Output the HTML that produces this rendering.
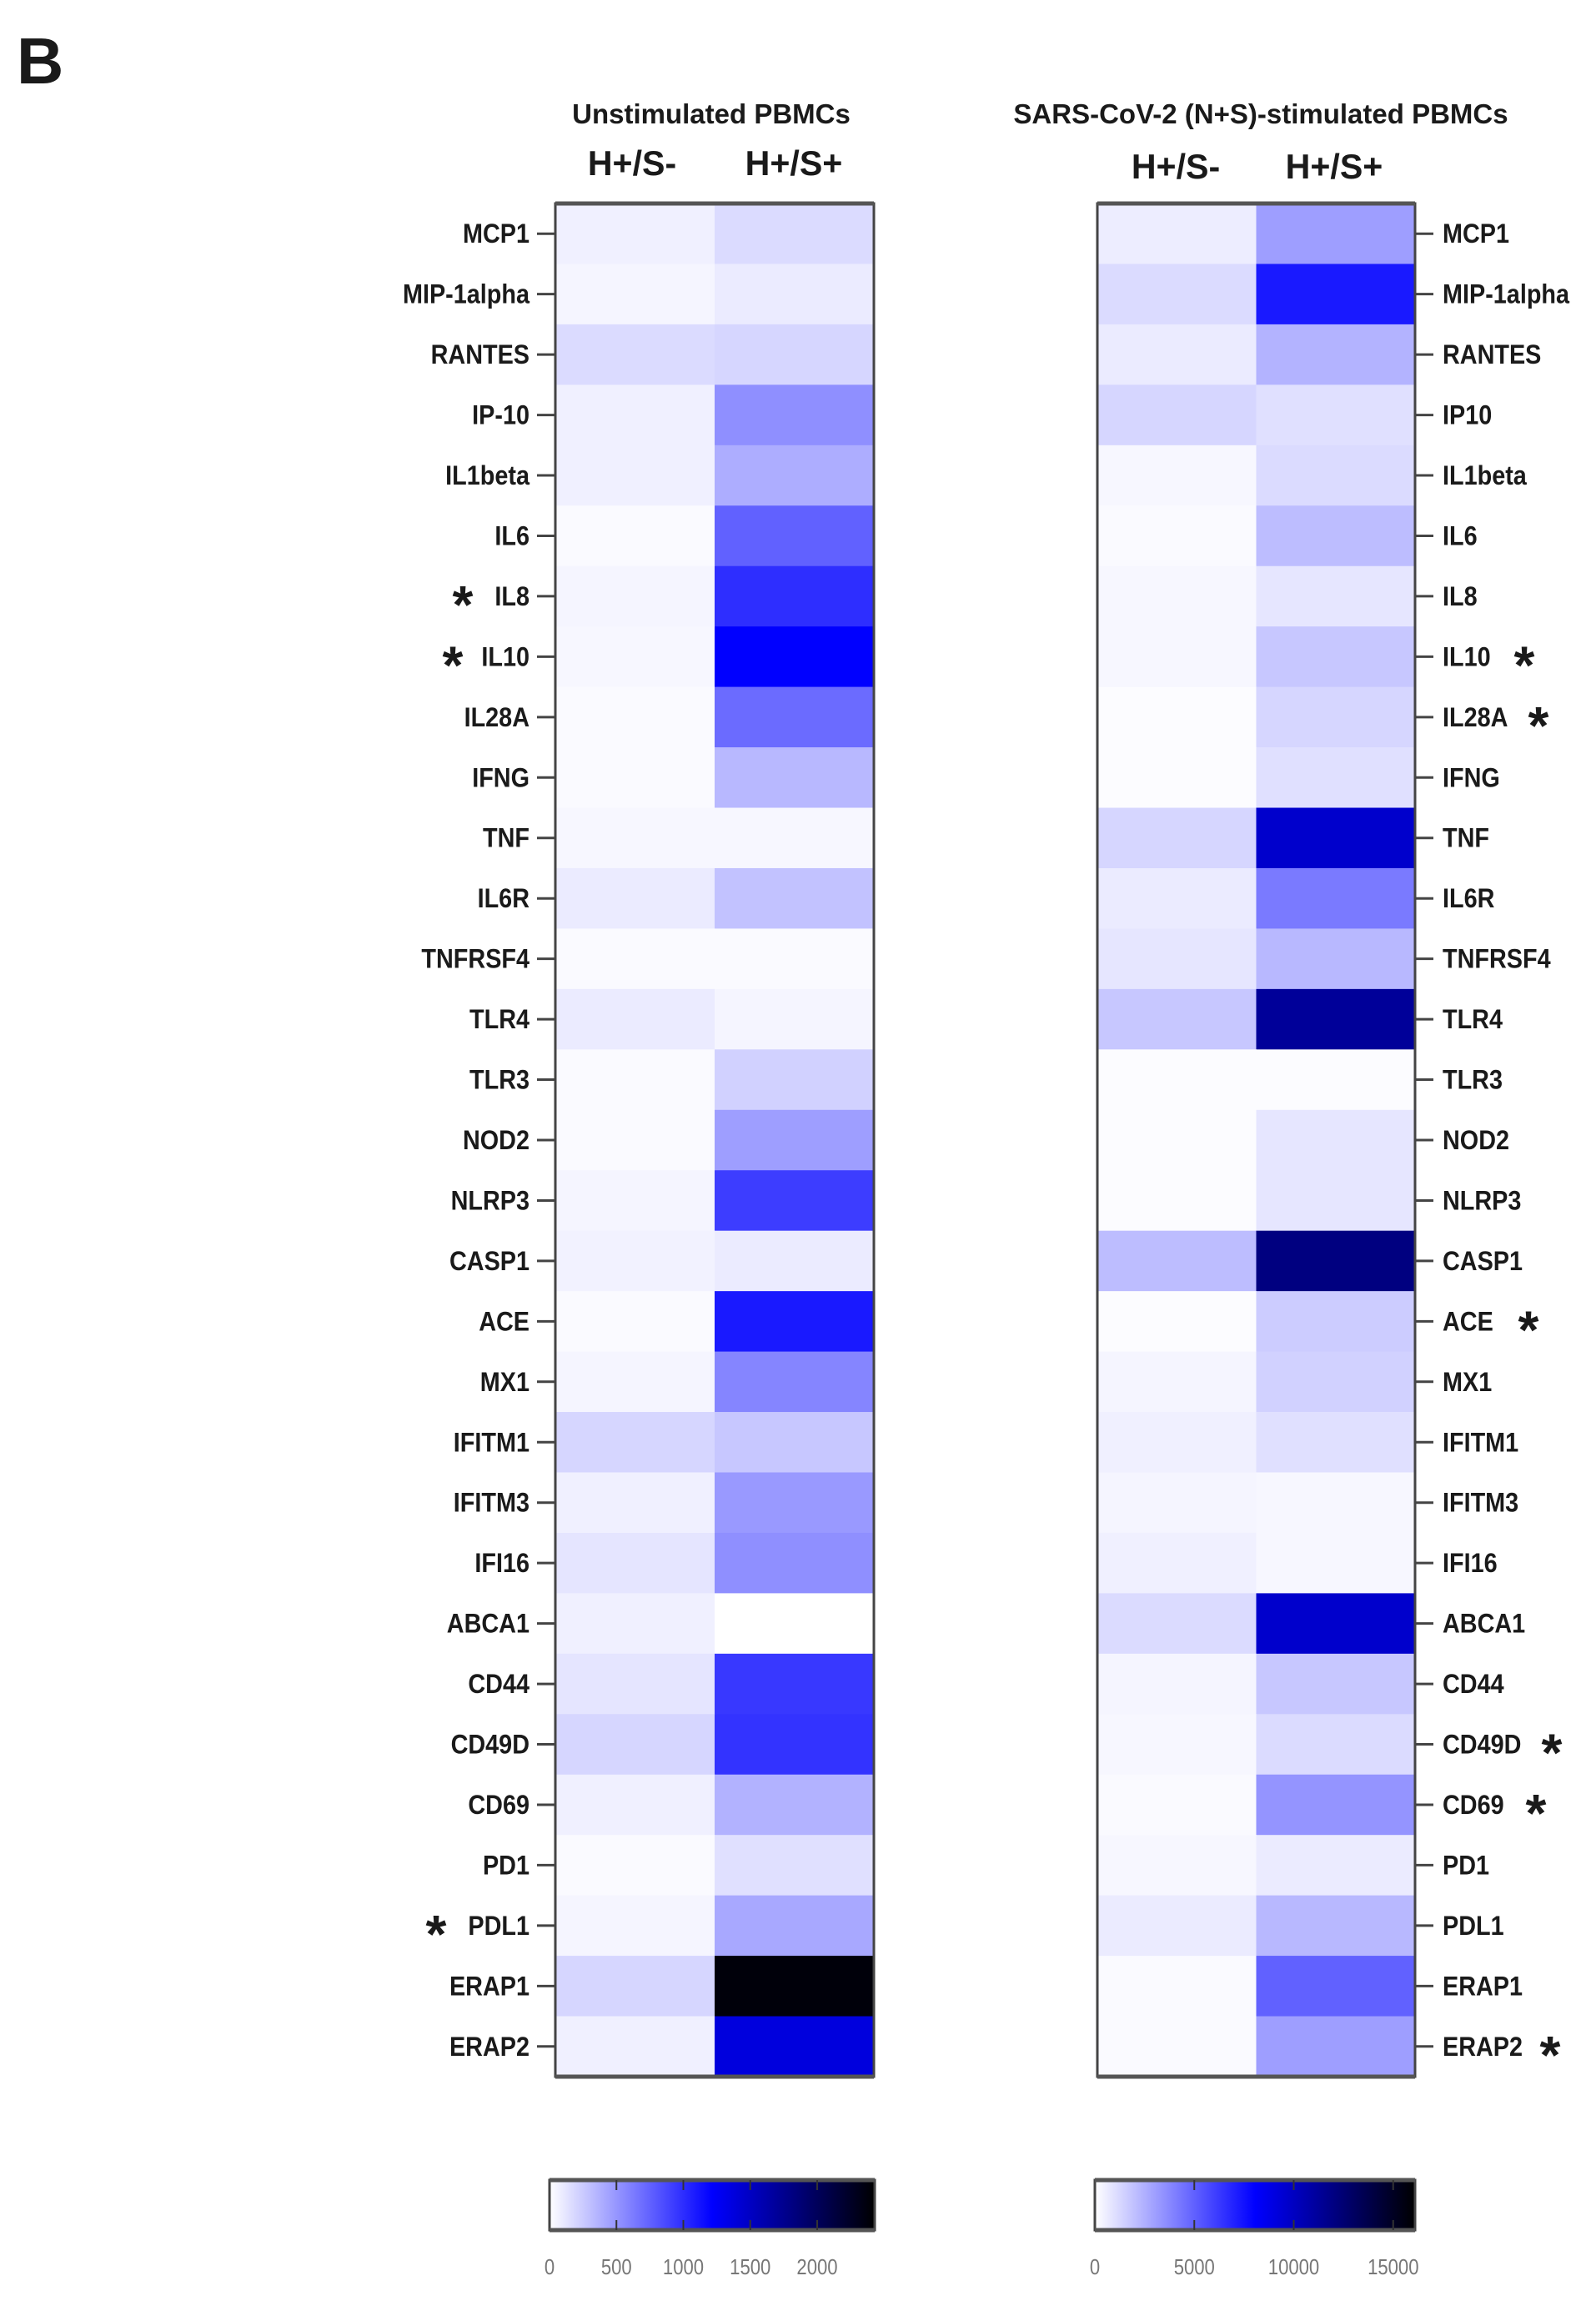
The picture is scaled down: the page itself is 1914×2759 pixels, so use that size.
<!DOCTYPE html>
<html><head><meta charset="utf-8">
<style>
html,body{margin:0;padding:0;background:#fff;}
svg{display:block;}
text{font-family:"Liberation Sans",sans-serif;font-weight:bold;fill:#1a1a1a;}
</style></head>
<body>
<svg id="chart" width="1914" height="2759" viewBox="0 0 1914 2759">
<text x="20" y="100" font-size="78">B</text>
</svg>
<script>
const genes=["MCP1","MIP-1alpha","RANTES","IP-10","IL1beta","IL6","IL8","IL10","IL28A","IFNG","TNF","IL6R","TNFRSF4","TLR4","TLR3","NOD2","NLRP3","CASP1","ACE","MX1","IFITM1","IFITM3","IFI16","ABCA1","CD44","CD49D","CD69","PD1","PDL1","ERAP1","ERAP2"];
const genesRight=["MCP1","MIP-1alpha","RANTES","IP10","IL1beta","IL6","IL8","IL10","IL28A","IFNG","TNF","IL6R","TNFRSF4","TLR4","TLR3","NOD2","NLRP3","CASP1","ACE","MX1","IFITM1","IFITM3","IFI16","ABCA1","CD44","CD49D","CD69","PD1","PDL1","ERAP1","ERAP2"];
const unstimNeg=[73,49,170,73,73,24,49,36,24,24,36,97,24,97,24,24,49,61,24,49,194,73,122,73,122,194,73,24,49,194,73];
const unstimPos=[170,97,194,535,389,753,996,1215,705,340,36,292,24,49,219,462,923,97,1094,583,267,486,535,0,948,972,365,146,413,2380,1378];
const stimNeg=[564,1127,644,1288,242,161,242,242,80,80,1288,644,805,1771,80,80,80,2093,80,322,483,322,483,1127,322,242,161,242,644,161,161];
const stimPos=[3059,7245,2415,966,1127,2093,805,1771,1288,966,9660,4186,2254,11270,80,805,805,12075,1610,1449,966,242,242,9660,1771,1127,3381,644,2254,4991,3059];
const unstimMax=2430, stimMax=16100;
const unstimTicks=[0,500,1000,1500,2000];
const stimTicks=[0,5000,10000,15000];
const leftStars=["IL8","IL10","PDL1"];
const rightStars=["IL10","IL28A","ACE","CD49D","CD69","ERAP2"];

const NS="http://www.w3.org/2000/svg";
const svg=document.getElementById("chart");
function mk(tag,attrs,parent){const e=document.createElementNS(NS,tag);for(const k in attrs)e.setAttribute(k,attrs[k]);(parent||svg).appendChild(e);return e;}
function stxt(x,y,size,anchor,sx,parent){return mk("text",{x:0,y:0,"font-size":size,"text-anchor":anchor,transform:`translate(${x},${y}) scale(${sx},1)`},parent);}
function color(v,max){let t=Math.max(0,Math.min(1,v/max));let r,g,b;
 if(t<0.5){const f=1-2*t;r=g=255*f;b=255;}else{const f=1-(t-0.5)*2;r=g=0;b=255*f;}
 return `rgb(${Math.round(r)},${Math.round(g)},${Math.round(b)})`;}
const top0=244, bot0=2490, rowH=(bot0-top0)/genes.length;
function yRow(i){return top0+i*rowH;}

function panel(x0,x1,colA,colB,max,labels,side,stars,starX,name){
 const mid=(x0+x1)/2;
 const g=mk("g",{});
 
 
 labels.forEach((lab,i)=>{
  [[colA,x0,mid],[colB,mid,x1]].forEach(([arr,a,b],c)=>{
   const r=mk("rect",{x:a,y:yRow(i),width:b-a+0.5,height:rowH+0.5,fill:color(arr[i],max)},g);
   
   
  });
  const cy=yRow(i)+rowH/2;
  let t;
  if(side==="left"){
   mk("line",{x1:x0-22,x2:x0,y1:cy,y2:cy,stroke:"#444","stroke-width":3},g);
   t=stxt(x0-31,cy+11,32,"end",0.9,g);
  }else{
   mk("line",{x1:x1,x2:x1+22,y1:cy,y2:cy,stroke:"#444","stroke-width":3},g);
   t=stxt(x1+33,cy+11,32,"start",0.9,g);
  }
  t.textContent=lab;
  
  
  const si=stars.indexOf(lab);
  if(si>=0){const s=mk("text",{x:starX[si],y:cy+32,"font-size":64,"text-anchor":"middle"},g);s.textContent="*";
   
   }
 });
 mk("rect",{x:x0,y:top0,width:x1-x0,height:bot0-top0,fill:"none",stroke:"#444","stroke-width":3},g);
 mk("line",{x1:x0,x2:x1,y1:top0,y2:top0,stroke:"#555","stroke-width":5},g);
 mk("line",{x1:x0,x2:x1,y1:bot0,y2:bot0,stroke:"#555","stroke-width":5},g);
}
panel(666,1048,unstimNeg,unstimPos,unstimMax,genes,"left",leftStars,[555,543,523],"heatmap-unstimulated");
panel(1316,1697,stimNeg,stimPos,stimMax,genesRight,"right",rightStars,[1828,1845,1833,1861,1842,1859],"heatmap-stimulated");

function title(x,y,s,sx,txt,name){const t=stxt(x,y,s,"middle",sx);t.textContent=txt;
 
 }
title(853,148,33,1.0,"Unstimulated PBMCs","title-unstimulated");
title(1512,148,33,1.0,"SARS-CoV-2 (N+S)-stimulated PBMCs","title-stimulated");
title(758,210,42,0.98,"H+/S-","column-label-h-s-neg-left");
title(952,210,42,0.98,"H+/S+","column-label-h-s-pos-left");
title(1410,214,42,0.98,"H+/S-","column-label-h-s-neg-right");
title(1600,214,42,0.98,"H+/S+","column-label-h-s-pos-right");

const defs=mk("defs",{});
const lg=mk("linearGradient",{id:"cb",x1:0,x2:1,y1:0,y2:0},defs);
mk("stop",{offset:"0","stop-color":"#fff"},lg);mk("stop",{offset:"0.5","stop-color":"#00f"},lg);mk("stop",{offset:"1","stop-color":"#000"},lg);
function colorbar(x0,x1,max,ticks,name){
 const y0=2614,y1=2674;
 const r=mk("rect",{x:x0,y:y0,width:x1-x0,height:y1-y0,fill:"url(#cb)",stroke:"#444","stroke-width":3});
 
 
 mk("line",{x1:x0,x2:x1,y1:y0,y2:y0,stroke:"#555","stroke-width":5});
 mk("line",{x1:x0,x2:x1,y1:y1,y2:y1,stroke:"#555","stroke-width":5});
 ticks.forEach(v=>{const x=x0+(x1-x0)*v/max;
  if(v>0){mk("line",{x1:x,x2:x,y1:y0,y2:y0+12,stroke:"#333","stroke-width":2});mk("line",{x1:x,x2:x,y1:y1-12,y2:y1,stroke:"#333","stroke-width":2});}
  const t=mk("text",{x:0,y:0,"font-size":26,"text-anchor":"middle",transform:`translate(${x},2727) scale(0.85,1)`,style:"fill:#777;font-weight:normal"});t.textContent=v;
  
  
 });
}
colorbar(659,1049,unstimMax,unstimTicks,"colorbar-unstimulated");
colorbar(1313,1697,stimMax,stimTicks,"colorbar-stimulated");
</script>
</body></html>
